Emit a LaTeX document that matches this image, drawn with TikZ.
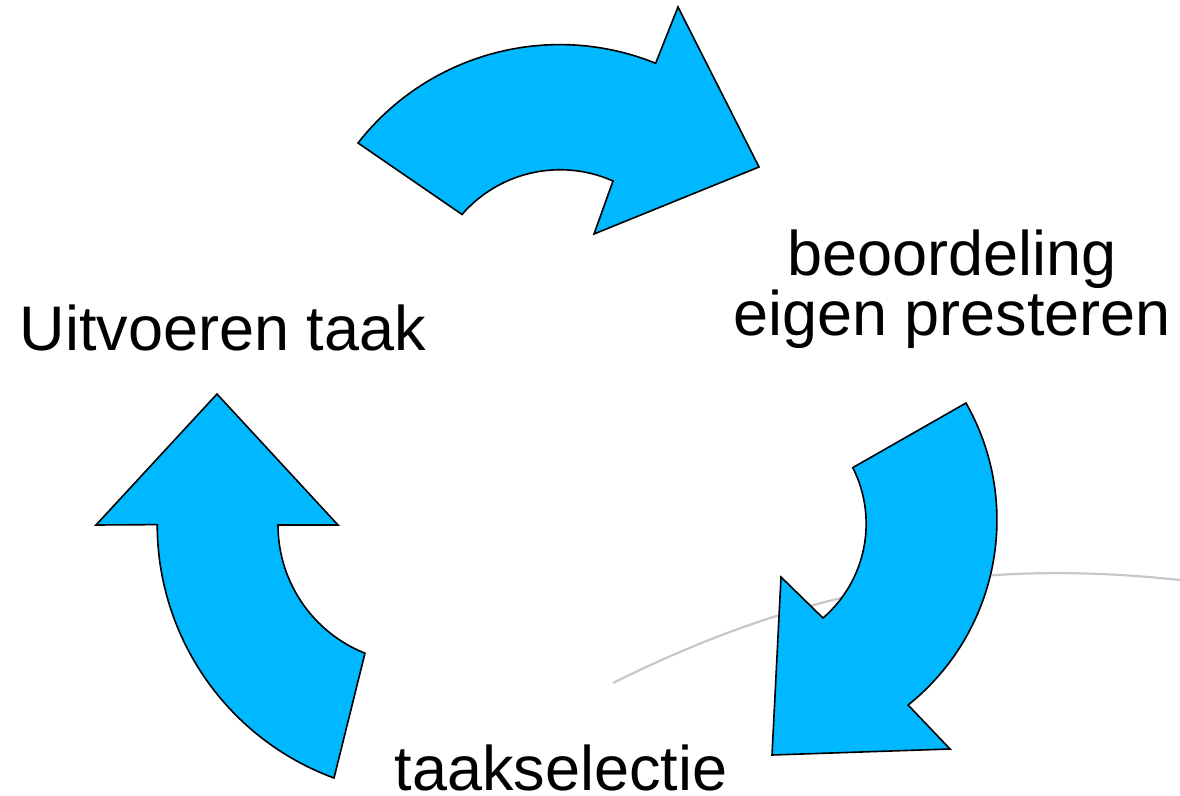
\documentclass[tikz,border=0pt]{standalone}
\usepackage{fontspec}
\setmainfont{Liberation Sans}
\definecolor{arrowblue}{RGB}{0,184,255}

\begin{document}
\begin{tikzpicture}[x=1pt, y=-1pt,
		bigarrow/.style={fill=arrowblue, draw=black, line width=1.6pt, line join=miter},
		cyclelabel/.style={font=\fontsize{63}{58}\selectfont, inner sep=0pt, align=center, anchor=base},
	]
		\useasboundingbox (0,0) rectangle (1180,795);
		
		% faint background curve
		\draw[black!22, line width=2.2pt] (613,683) .. controls (780,600) and (950,555) .. (1180,580);
		
		% top arrow
		\draw[bigarrow] (358,143) arc[start angle=-142, end angle=-68, radius=256]
			-- (678,7) -- (759,167) -- (594,234) -- (613,181)
			arc[start angle=-66, end angle=-139, radius=130] -- cycle;
		
		% right arrow
		\draw[bigarrow] (966,403) arc[start angle=-29.6, end angle=51.3, radius=237]
			-- (950,749) -- (772,755) -- (781,577) -- (823,618)
			arc[start angle=49.2, end angle=-26.8, radius=124.5] -- cycle;
		
		% left arrow
		\draw[bigarrow] (217,394) -- (338,525) -- (278,525)
			arc[start angle=180, end angle=111.7, radius=138]
			-- (334,778) arc[start angle=110.2, end angle=180, radius=270]
			-- (96,525) -- cycle;
		
		\node[cyclelabel] (uitvoeren) at (223,350) {Uitvoeren taak};
		\node[cyclelabel] (beoordeling) at (952,335) {beoordeling\\eigen presteren};
		\node[cyclelabel] (selectie) at (561,790) {taakselectie};
	\end{tikzpicture}
\end{document}
